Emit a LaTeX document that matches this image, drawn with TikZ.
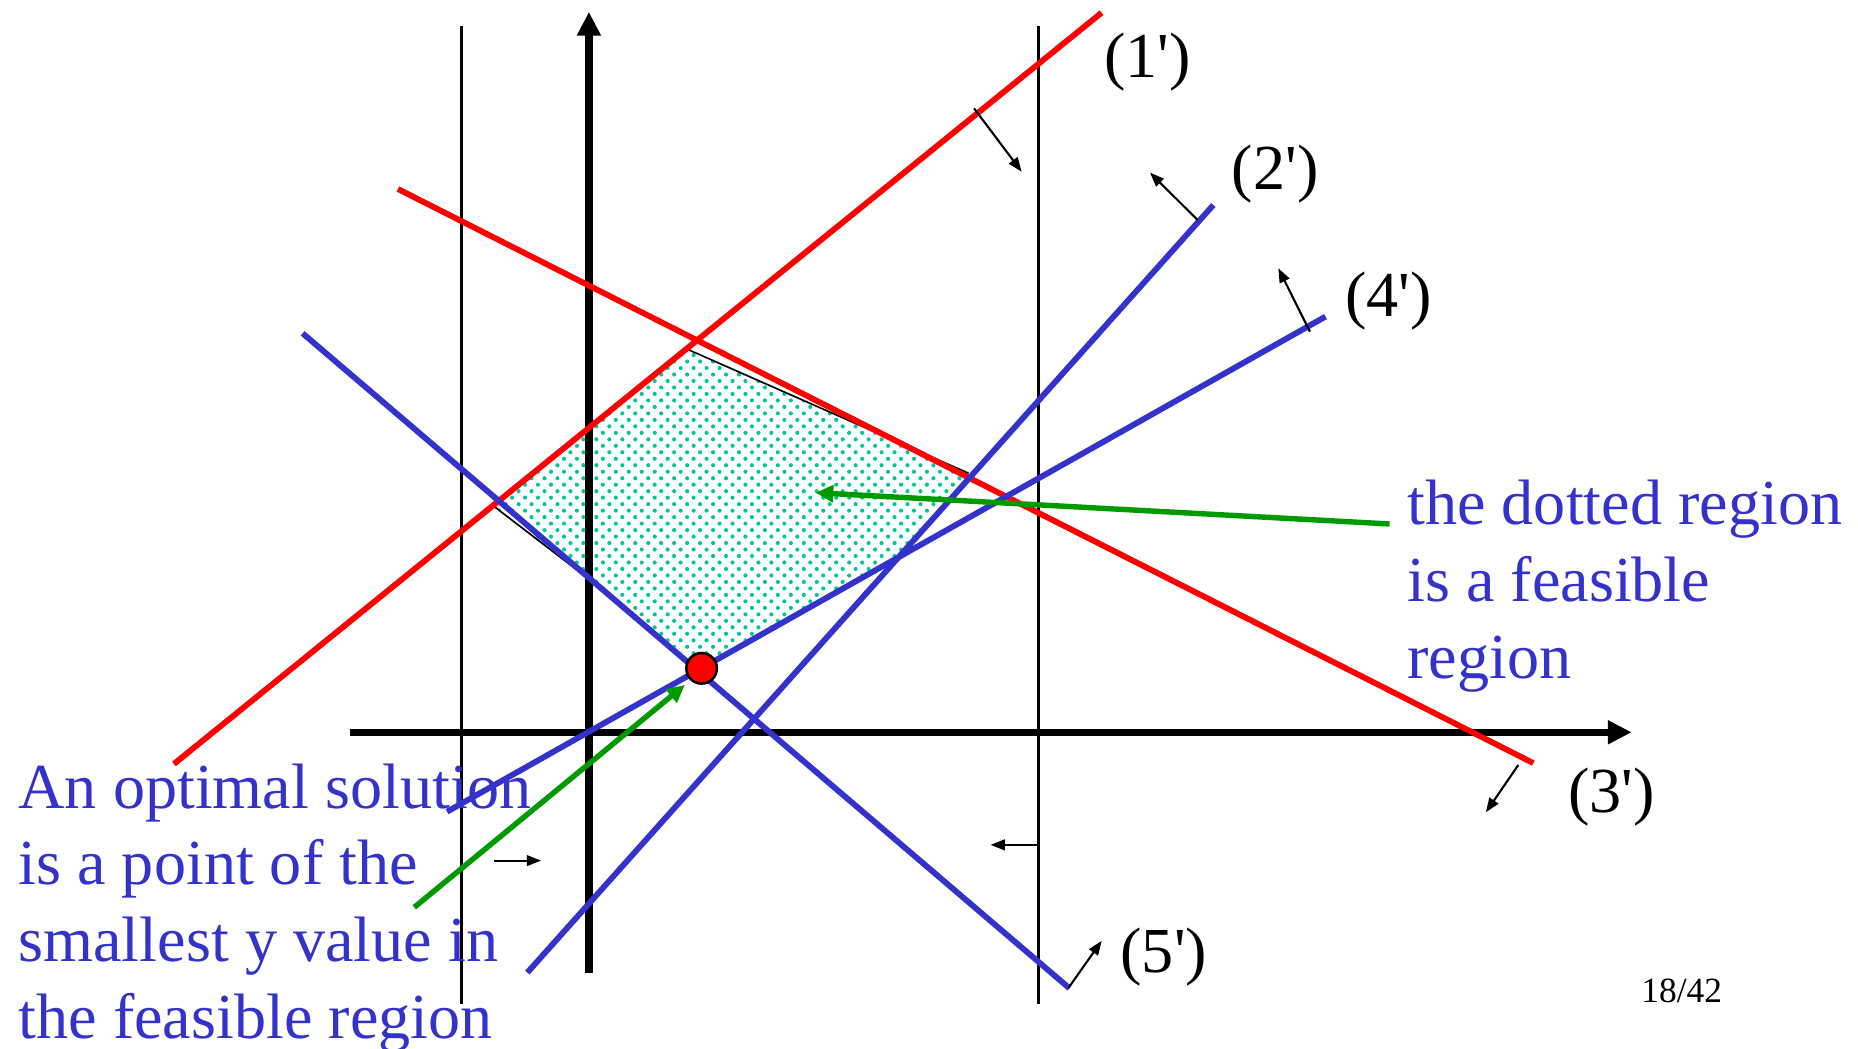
\documentclass[tikz,border=0pt]{standalone}
\usepackage{fontspec}
\setmainfont{Liberation Serif}
\newfontfamily\labfont{Liberation Serif}[Ligatures=TeXOff]
\usetikzlibrary{arrows.meta,patterns.meta}
\definecolor{lpred}{RGB}{255,0,0}
\definecolor{lpblue}{RGB}{51,51,204}
\definecolor{lpgreen}{RGB}{0,153,0}
\definecolor{lpdots}{RGB}{0,200,150}
\tikzset{
  redline/.style={line width=1.4pt, draw=lpred},
  blueline/.style={line width=1.4pt, draw=lpblue},
  axisline/.style={line width=1.8pt, -{Triangle[length=0.2cm,width=0.19cm]}},
  boundline/.style={line width=0.6pt},
  normarrow/.style={line width=0.5pt, -{Triangle[length=0.12cm,width=0.09cm]}},
  greenarrow/.style={line width=1.3pt, draw=lpgreen, -{Triangle[length=0.15cm,width=0.14cm]}},
  bigtext/.style={font=\fontsize{15.4}{18.4}\selectfont, text=lpblue, align=left, inner sep=0pt, anchor=base west},
  lab/.style={font=\labfont\fontsize{15.4}{18.4}\selectfont, inner sep=0pt, anchor=base west},
}
\begin{document}
\begin{tikzpicture}[x=0.01cm,y=-0.01cm]
\useasboundingbox (0,0) rectangle (1568,885);
% feasible region
\coordinate (pA) at (417.9,428.1);
\coordinate (pB) at (581.6,295.4);
\coordinate (pC) at (817.4,399.4);
\coordinate (pD) at (756,469.8);
\coordinate (pE) at (590,562);
\coordinate (pF) at (496,488);
\path[pattern={Dots[distance=2.2pt,radius=0.5pt,angle=45]}, pattern color=lpdots]
  (pA) -- (pB) -- (pC) -- (pD) -- (pE) -- (pF) -- cycle;
\draw[line width=0.4pt] (pB) -- (pC);
\draw[line width=0.4pt] (pA) -- (pF);
% thin verticals
\coordinate (vLt) at (389.5,22); \coordinate (vLb) at (389.5,847);
\coordinate (vRt) at (876.4,22); \coordinate (vRb) at (876.4,847);
\draw[boundline] (vLt) -- (vLb);
\draw[boundline] (vRt) -- (vRb);
% axes
\coordinate (yb) at (497,820.8); \coordinate (yt) at (497,10);
\coordinate (xl) at (295,618); \coordinate (xr) at (1377,618);
\draw[axisline] (yb) -- (yt);
\draw[axisline] (xl) -- (xr);
% constraint lines
\coordinate (l1a) at (146.8,644.7); \coordinate (l1b) at (929.7,10.7);
\coordinate (l3a) at (335.8,159.5); \coordinate (l3b) at (1294,644);
\coordinate (l5a) at (255.4,281.3); \coordinate (l5b) at (902.5,834);
\coordinate (l2a) at (445,820.8); \coordinate (l2b) at (1024,173);
\coordinate (l4a) at (377.3,685); \coordinate (l4b) at (1118.6,267.2);
\draw[redline] (l1a) -- (l1b);
\draw[redline] (l3a) -- (l3b);
\draw[blueline] (l5a) -- (l5b);
\draw[blueline] (l2a) -- (l2b);
\draw[blueline] (l4a) -- (l4b);
% normal arrows
\coordinate (n1s) at (822,91.4);    \coordinate (n1e) at (862.2,144.9);
\coordinate (n2s) at (1010.7,185.7); \coordinate (n2e) at (970.5,145.7);
\coordinate (n4s) at (1105.5,279.9); \coordinate (n4e) at (1078.8,226.4);
\coordinate (n3s) at (1281.3,645.6); \coordinate (n3e) at (1254,685.5);
\coordinate (n5s) at (901.5,834);   \coordinate (n5e) at (929.7,794);
\coordinate (nLs) at (416.9,726.3); \coordinate (nLe) at (456.6,726.3);
\coordinate (nRs) at (876.4,713);   \coordinate (nRe) at (836,713);
\draw[normarrow] (n1s) -- (n1e);
\draw[normarrow] (n2s) -- (n2e);
\draw[normarrow] (n4s) -- (n4e);
\draw[normarrow] (n3s) -- (n3e);
\draw[normarrow] (n5s) -- (n5e);
\draw[normarrow] (nLs) -- (nLe);
\draw[normarrow] (nRs) -- (nRe);
% optimal point
\node[circle, fill=lpred, draw=black, line width=0.6pt, minimum size=0.258cm, inner sep=0pt] (opt) at (592.1,564) {};
% labels
\node[lab] (lab1) at (931,65) {(1')};
\node[lab] (lab2) at (1039,160) {(2')};
\node[lab] (lab4) at (1134.6,267.2) {(4')};
\node[lab] (lab3) at (1323,686) {(3')};
\node[lab] (lab5) at (945,821) {(5')};
\node[font=\fontsize{8.5}{10}\selectfont, inner sep=0pt, anchor=base west] (pg) at (1384.5,845.8) {18/42};
% texts (anchor = baseline of last line)
\node[bigtext] (txtR) at (1187,572.4) {the dotted region\\is a feasible\\region};
\node[bigtext] (txtL) at (15,876.1) {An optimal solution\\is a point of the\\smallest y value in\\the feasible region};
% green arrows
\coordinate (g1s) at (1172.7,442.2); \coordinate (g1e) at (688.2,415.8);
\coordinate (g2s) at (349.6,765.7); \coordinate (g2e) at (578,578);
\draw[greenarrow] (g1s) -- (g1e);
\draw[greenarrow] (g2s) -- (g2e);
\end{tikzpicture}
\end{document}
